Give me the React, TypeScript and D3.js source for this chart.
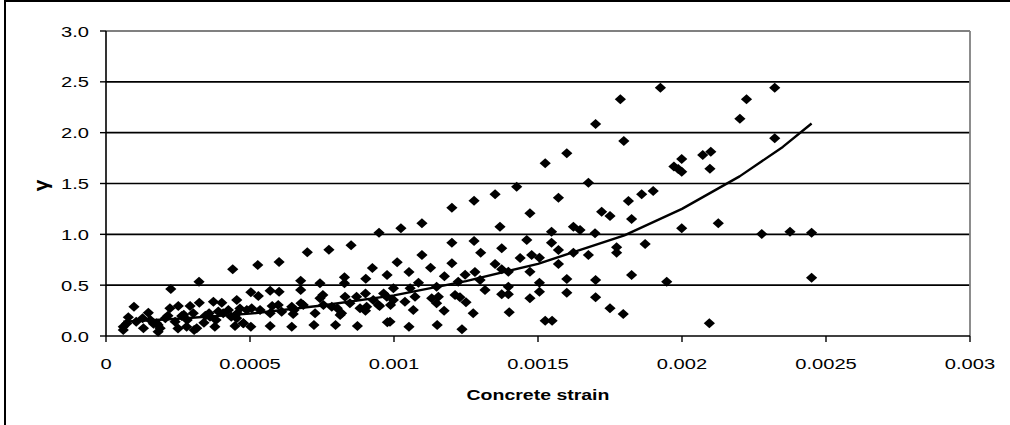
import React from "react";
import * as d3 from "d3";

// scatter points (concrete strain, gamma)
const strain = [
  0.001925, 0.001786, 0.002224, 0.002322, 0.002201, 0.0017, 0.001798, 0.002322, 0.0016, 0.001525,
  0.001999, 0.002072, 0.0021, 0.002097, 0.001972, 0.001987, 0.001999, 0.001675, 0.001426, 0.001571,
  0.0019, 0.00186, 0.001814, 0.001721, 0.00175, 0.001472, 0.001825, 0.001368, 0.001547, 0.001623,
  0.001646, 0.001698, 0.001999, 0.002126, 0.002277, 0.002375, 0.00245, 0.00245, 0.001374, 0.001461,
  0.001547, 0.001571, 0.001438, 0.001478, 0.001505, 0.001623, 0.001675, 0.001773, 0.001773, 0.001872,
  0.001571, 0.001374, 0.001397, 0.001472, 0.001505, 0.0016, 0.0017, 0.001825, 0.001947, 0.001374,
  0.001397, 0.001397, 0.001472, 0.001505, 0.0016, 0.0017, 0.0014, 0.001525, 0.001549, 0.00175,
  0.001796, 0.002095,
  0.001024, 0.001097, 0.001201, 0.001278, 0.001351, 0.001201, 0.001278, 0.001301, 0.001097, 0.001011,
  0.001201, 0.001127, 0.001052, 0.001175, 0.001281, 0.001247, 0.001351, 0.001299, 0.001223, 0.001148,
  0.001085, 0.001056, 0.000998, 0.001073, 0.001131, 0.001154, 0.001212, 0.001229, 0.00125, 0.001316,
  0.000998, 0.001038, 0.001067, 0.001148, 0.001174, 0.001275, 0.001052, 0.00115, 0.001236, 0.000986,
  0.000527, 0.000601, 0.000699, 0.000774, 0.000851, 0.000948, 0.000925, 0.000976, 0.000902, 0.000828,
  0.000828, 0.000743, 0.000676, 0.000676, 0.000601, 0.00057, 0.000503, 0.000529, 0.000645, 0.000722,
  0.000797, 0.000873, 0.000977, 0.000503, 0.00057, 0.000477,
  0.000506, 0.000535, 0.00057, 0.000598, 0.00061, 0.000645, 0.00065, 0.000685, 0.000726, 0.000743,
  0.000755, 0.000784, 0.000813, 0.00083, 0.000847, 0.00087, 0.000882, 0.000905, 0.000928, 0.000946,
  0.000975, 0.000901, 0.000901, 0.000753, 0.000577, 0.000653, 0.000677, 0.000803, 0.000818, 0.00095,
  0.000964, 0.000988,
  0.00044, 0.000323, 0.000225, 0.0000972, 0.0000775, 0.000147, 0.00006, 0.00013, 0.000176, 0.000188,
  0.000222, 0.000251, 0.000263, 0.000292, 0.000324, 0.000303, 0.00028, 0.000315, 0.000373, 0.000402,
  0.000361, 0.000425, 0.000454, 0.000454, 0.000489, 0.000477, 0.000378, 0.000448,
  0.000407, 0.000382, 0.000358, 0.000306, 0.000282, 0.00025, 0.000206, 0.000181, 0.000181, 0.000154,
  0.000127, 0.000072, 0.00006, 0.000456,
  0.000105, 0.000165, 0.000215, 0.00024, 0.00027, 0.000345, 0.00039, 0.000435, 0.000465, 0.00034,
];

const gamma = [
  2.443, 2.328, 2.328, 2.443, 2.137, 2.085, 1.918, 1.944, 1.797, 1.699,
  1.741, 1.78, 1.813, 1.646, 1.666, 1.642, 1.616, 1.508, 1.469, 1.36,
  1.426, 1.394, 1.328, 1.223, 1.18, 1.207, 1.151, 1.075, 1.026, 1.075,
  1.043, 1.01, 1.059, 1.108, 1.003, 1.026, 1.016, 0.573, 0.862, 0.944,
  0.918, 0.846, 0.767, 0.797, 0.77, 0.82, 0.797, 0.872, 0.82, 0.905,
  0.708, 0.656, 0.633, 0.633, 0.524, 0.561, 0.551, 0.6, 0.534, 0.41,
  0.41, 0.485, 0.371, 0.436, 0.426, 0.38, 0.233, 0.151, 0.151, 0.272,
  0.216, 0.125,
  1.059, 1.108, 1.262, 1.331, 1.394, 0.918, 0.934, 0.82, 0.797, 0.725,
  0.715, 0.672, 0.63, 0.587, 0.63, 0.603, 0.708, 0.551, 0.534, 0.485,
  0.524, 0.469, 0.469, 0.387, 0.371, 0.387, 0.403, 0.38, 0.331, 0.452,
  0.354, 0.337, 0.256, 0.321, 0.249, 0.223, 0.092, 0.108, 0.066, 0.141,
  0.698, 0.728, 0.823, 0.849, 0.892, 1.016, 0.669, 0.6, 0.564, 0.577,
  0.518, 0.518, 0.544, 0.452, 0.436, 0.446, 0.43, 0.393, 0.092, 0.108,
  0.108, 0.098, 0.135, 0.092, 0.098, 0.125,
  0.272, 0.256, 0.223, 0.305, 0.239, 0.288, 0.216, 0.305, 0.223, 0.371,
  0.305, 0.288, 0.207, 0.387, 0.321, 0.387, 0.272, 0.288, 0.354, 0.305,
  0.387, 0.249, 0.419, 0.403, 0.295, 0.255, 0.321, 0.272, 0.223, 0.295,
  0.419, 0.305,
  0.656, 0.534, 0.462, 0.288, 0.184, 0.229, 0.092, 0.076, 0.125, 0.076,
  0.272, 0.295, 0.197, 0.295, 0.328, 0.223, 0.092, 0.076, 0.337, 0.328,
  0.19, 0.256, 0.354, 0.174, 0.256, 0.125, 0.092, 0.098,
  0.223, 0.157, 0.223, 0.059, 0.157, 0.075, 0.174, 0.108, 0.042, 0.157,
  0.174, 0.124, 0.059, 0.223,
  0.14, 0.12, 0.2, 0.14, 0.21, 0.2, 0.24, 0.19, 0.27, 0.13,
];

// trend line
const trendStrain = [0.00006, 0.00025, 0.0005, 0.00075, 0.001, 0.00125, 0.0015, 0.0018, 0.002, 0.0022, 0.00235, 0.00245];
const trendGamma = [0.14, 0.17, 0.22, 0.3, 0.4, 0.54, 0.71, 0.99, 1.25, 1.57, 1.86, 2.09];

const yTicks = [0, 0.5, 1, 1.5, 2, 2.5, 3];
const xTicks = [0, 0.0005, 0.001, 0.0015, 0.002, 0.0025, 0.003];
const xTickLabels = ["0", "0.0005", "0.001", "0.0015", "0.002", "0.0025", "0.003"];

const FONT = "'Liberation Sans', Arial, sans-serif";

export default function App() {
  const left = 106, right = 970, top = 31, bottom = 336;
  const x = d3.scaleLinear().domain([0, 0.003]).range([left, right]);
  const y = d3.scaleLinear().domain([0, 3]).range([bottom, top]);

  const trend = d3.line<number>()
    .x((_, i) => x(trendStrain[i]))
    .y((d) => y(d))(trendGamma);

  const diamond = "M0,-5 L5.6,0 L0,5 L-5.6,0 Z";

  return (
    <svg width={1010} height={425} style={{ position: "absolute", left: 0, top: 0, background: "#fff" }}>
      <rect x={0} y={0} width={1010} height={425} fill="#fff" />
      {/* outer frame */}
      <rect x={5} y={1} width={1030} height={460} fill="none" stroke="#000" strokeWidth={2} />

      {/* gridlines */}
      {yTicks.filter((t) => t > 0 && t < 3).map((t) => (
        <line key={t} x1={left} x2={right} y1={y(t)} y2={y(t)} stroke="#000" strokeWidth={1.6} />
      ))}
      {/* plot area border */}
      <line x1={left} x2={right} y1={y(3)} y2={y(3)} stroke="#808080" strokeWidth={1.8} />
      <line x1={right} x2={right} y1={top} y2={bottom} stroke="#808080" strokeWidth={1.8} />

      {/* axes */}
      <line x1={left} x2={left} y1={top} y2={bottom} stroke="#000" strokeWidth={1.6} />
      <line x1={left} x2={right} y1={bottom} y2={bottom} stroke="#000" strokeWidth={1.6} />
      {yTicks.map((t) => (
        <g key={"y" + t}>
          <line x1={left - 6} x2={left} y1={y(t)} y2={y(t)} stroke="#000" strokeWidth={1.4} />
          <g transform={`translate(89,${y(t) + 5.5}) scale(1.3,1)`}>
            <text textAnchor="end" fontFamily={FONT} fontSize={15.5} fill="#000">{d3.format(".1f")(t)}</text>
          </g>
        </g>
      ))}
      {xTicks.map((t, i) => (
        <g key={"x" + t}>
          <line x1={x(t)} x2={x(t)} y1={bottom} y2={bottom + 6} stroke="#000" strokeWidth={1.4} />
          <g transform={`translate(${x(t)},368.5) scale(1.3,1)`}>
            <text textAnchor="middle" fontFamily={FONT} fontSize={15.5} fill="#000">{xTickLabels[i]}</text>
          </g>
        </g>
      ))}

      {/* points */}
      {strain.map((s, i) => (
        <path key={i} d={diamond} transform={`translate(${x(s)},${y(gamma[i])})`} fill="#000" />
      ))}

      {/* trend line */}
      <path d={trend ?? ""} fill="none" stroke="#000" strokeWidth={2.4} strokeLinejoin="round" />

      {/* axis titles */}
      <g transform={`translate(${(left + right) / 2},400) scale(1.3,1)`}>
        <text textAnchor="middle" fontFamily={FONT} fontSize={15} fontWeight="bold" fill="#000">Concrete strain</text>
      </g>
      <text transform={`translate(48,${(top + bottom) / 2 + 2}) rotate(-90)`} textAnchor="middle"
        fontFamily={FONT} fontSize={21} fontWeight="bold" fill="#000">γ</text>
    </svg>
  );
}
